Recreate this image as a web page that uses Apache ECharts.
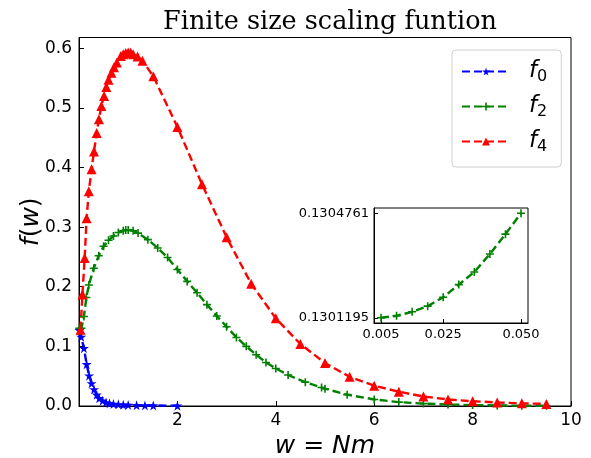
<!DOCTYPE html>
<html>
<head>
<meta charset="utf-8">
<script src="https://cdn.jsdelivr.net/npm/echarts@6/dist/echarts.min.js"></script>
<style>html,body{margin:0;padding:0;background:#fff}#c{width:591px;height:458px}</style>
</head>
<body>
<div id="c"></div>
<script>
// ---- data ----
const w0 = [0.01,0.045,0.1,0.155,0.205,0.255,0.305,0.36,0.41,0.48,0.55,0.62,0.7,0.8,0.9,1.0,1.17,1.34,1.51,2.0];
const f0 = [0.127,0.116,0.097,0.070,0.051,0.038,0.028,0.019,0.013,0.009,0.006,0.0045,0.0035,0.0028,0.0022,0.0018,0.0013,0.001,0.0008,0.0004];

const w2 = [0.005,0.05,0.1,0.15,0.2,0.3,0.4,0.5,0.6,0.7,0.8,0.9,0.95,1.0,1.1,1.2,1.4,1.6,1.8,2.0,2.2,2.4,2.6,2.8,3.0,3.2,3.4,3.6,3.8,4.0,4.25,4.6,4.93,5.0,5.45,6.0,6.5,7.0,7.5,8.0,8.5,9.0,9.5];
const f2 = [0.1301,0.1305,0.150,0.182,0.203,0.231,0.252,0.268,0.278,0.285,0.291,0.294,0.295,0.295,0.294,0.290,0.279,0.265,0.249,0.229,0.209,0.190,0.170,0.151,0.133,0.115,0.100,0.086,0.073,0.063,0.052,0.040,0.031,0.029,0.019,0.011,0.0065,0.004,0.0025,0.0015,0.0009,0.0005,0.0003];

const w4 = [0.03,0.07,0.115,0.155,0.2,0.255,0.305,0.36,0.405,0.455,0.51,0.555,0.6,0.66,0.71,0.77,0.85,0.9,0.95,1.0,1.05,1.1,1.19,1.29,1.51,2.0,2.5,3.0,3.5,4.0,4.5,5.0,5.5,6.0,6.5,7.0,7.5,8.0,8.5,9.0,9.5];
const f4 = [0.128,0.187,0.248,0.315,0.360,0.397,0.427,0.458,0.481,0.503,0.520,0.535,0.547,0.559,0.568,0.576,0.587,0.590,0.592,0.593,0.593,0.590,0.586,0.579,0.553,0.468,0.372,0.283,0.205,0.147,0.104,0.072,0.049,0.034,0.024,0.016,0.011,0.008,0.006,0.0045,0.0035];

const wIn = [0.005,0.010,0.015,0.020,0.025,0.030,0.035,0.040,0.045,0.050];
const fIn = [0.1301195,0.1301263,0.1301399,0.1301591,0.1301897,0.1302327,0.1302757,0.1303369,0.1304048,0.1304761];

const mainXTicks = [2,4,6,8,10];
const mainYTicks = [0,0.1,0.2,0.3,0.4,0.5,0.6];
const inXTicks = [0.005,0.025,0.05];
const inYTicks = [0.1301195,0.1304761];
const names = ['f0','f2','f4'];

// ---- chart ----
const zip = (a,b) => a.map((v,i)=>[v,b[i]]);
const STAR = 'path://M50,0 L61,35 L98,35 L68,57 L79,91 L50,70 L21,91 L32,57 L2,35 L39,35 Z';
const PLUS = 'path://M40,0 H60 V40 H100 V60 H60 V100 H40 V60 H0 V40 H40 Z';
const FONT = 'DejaVu Sans';
const dash = [8,4];

function lineSeries(name, data, color, symbol, size, xi, yi) {
  return {
    name: name, type: 'line', data: data, xAxisIndex: xi, yAxisIndex: yi,
    symbol: symbol, symbolSize: size, showAllSymbol: true,
    lineStyle: {color: color, width: 2.4, type: dash},
    itemStyle: {color: color, borderWidth: 0},
    animation: false, clip: true
  };
}

const chart = echarts.init(document.getElementById('c'), null, {renderer: 'canvas'});
chart.setOption({
  backgroundColor: '#fff',
  animation: false,
  title: {
    text: 'Finite size scaling funtion',
    left: 325, top: 4, textAlign: 'center',
    textStyle: {fontFamily: 'DejaVu Serif', fontSize: 25.5, fontWeight: 'normal', color: '#000'}
  },
  legend: {
    data: names, orient: 'vertical', left: 452, top: 50,
    padding: [10, 14, 12, 9], itemGap: 10,
    itemWidth: 48, itemHeight: 10,
    borderColor: '#d0d0d0', borderWidth: 1, borderRadius: 4, backgroundColor: '#fff',
    formatter: n => '{i|f}{s|' + n.slice(1) + '}',
    textStyle: {
      padding: [0,0,0,14],
      rich: {
        i: {fontFamily: FONT, fontStyle: 'italic', fontSize: 23, color: '#000'},
        s: {fontFamily: FONT, fontSize: 16, color: '#000', padding: [11,0,0,0]}
      }
    }
  },
  grid: [
    {left: 79, top: 37.5, width: 492, height: 368.5, show: true, borderColor: '#000', borderWidth: 1, containLabel: false, outerBoundsMode: 'none'},
    {left: 374, top: 208, width: 154, height: 115, show: true, borderColor: '#000', borderWidth: 1, backgroundColor: '#fff', containLabel: false, outerBoundsMode: 'none'}
  ],
  xAxis: [
    {type: 'value', gridIndex: 0, min: 0, max: 10, interval: 2,
     splitLine: {show: false}, axisLine: {lineStyle: {color: '#000', width: 1}},
     axisTick: {inside: true, length: 5, customValues: mainXTicks, lineStyle: {color: '#000'}},
     axisLabel: {customValues: mainXTicks, fontFamily: FONT, fontSize: 17, color: '#000', margin: 6},
     name: '{i|w}{n| = }{i|Nm}', nameLocation: 'middle', nameGap: 27,
     nameTextStyle: {rich: {
       i: {fontFamily: FONT, fontStyle: 'italic', fontSize: 25, color: '#000'},
       n: {fontFamily: FONT, fontSize: 25, color: '#000'}}}
    },
    {type: 'value', gridIndex: 1, min: 0.00275, max: 0.05225,
     splitLine: {show: false}, axisLine: {lineStyle: {color: '#000', width: 1}},
     axisTick: {inside: true, length: 4, customValues: inXTicks, lineStyle: {color: '#000'}},
     axisLabel: {customValues: inXTicks, formatter: v => v.toFixed(3), fontFamily: FONT, fontSize: 13, color: '#000', margin: 5}
    }
  ],
  yAxis: [
    {type: 'value', gridIndex: 0, min: 0, max: 0.618, interval: 0.1,
     splitLine: {show: false}, axisLine: {lineStyle: {color: '#000', width: 1}},
     axisTick: {inside: true, length: 5, customValues: mainYTicks, lineStyle: {color: '#000'}},
     axisLabel: {customValues: mainYTicks, formatter: v => v.toFixed(1), fontFamily: FONT, fontSize: 17, color: '#000', margin: 7},
     name: '{i|f}{n|(}{i|w}{n|)}', nameLocation: 'middle', nameGap: 35, nameMoveOverlap: false,
     nameTextStyle: {rich: {
       i: {fontFamily: FONT, fontStyle: 'italic', fontSize: 25, color: '#000'},
       n: {fontFamily: FONT, fontSize: 25, color: '#000'}}}
    },
    {type: 'value', gridIndex: 1, min: 0.1301017, max: 0.1304939,
     splitLine: {show: false}, axisLine: {lineStyle: {color: '#000', width: 1}},
     axisTick: {inside: true, length: 4, customValues: inYTicks, lineStyle: {color: '#000'}},
     axisLabel: {customValues: inYTicks, formatter: v => v.toFixed(7), fontFamily: FONT, fontSize: 13, color: '#000', margin: 5}
    }
  ],
  series: [
    lineSeries('f0', zip(w0, f0), '#0000ff', STAR, 10, 0, 0),
    lineSeries('f2', zip(w2, f2), '#008000', PLUS, 8, 0, 0),
    lineSeries('f4', zip(w4, f4), '#ff0000', 'triangle', 10, 0, 0),
    Object.assign(lineSeries('f2in', zip(wIn, fIn), '#008000', PLUS, 8, 1, 1), {z: 5})
  ]
});
</script>
</body>
</html>
